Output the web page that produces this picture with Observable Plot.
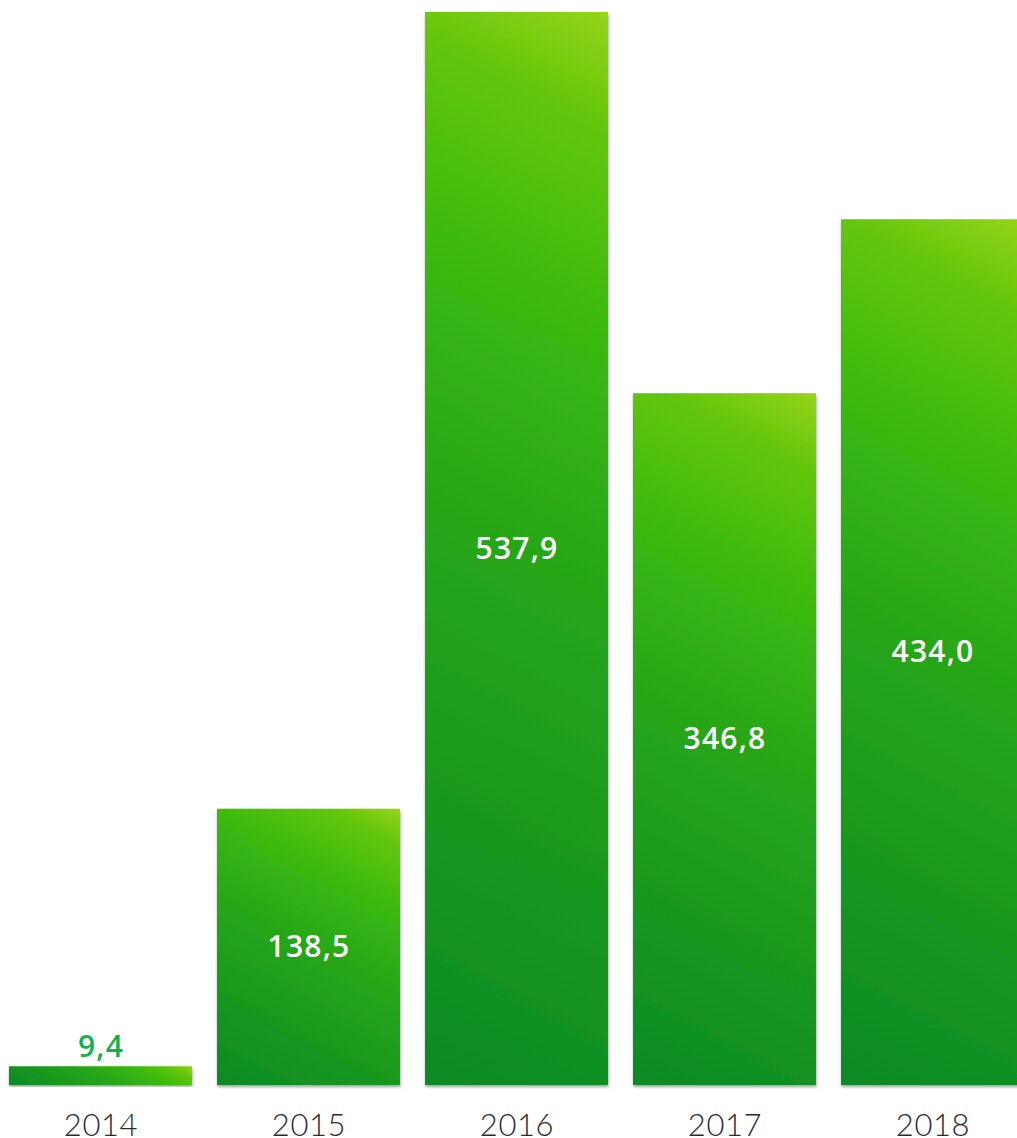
<!DOCTYPE html>
<html>
<head>
<meta charset="utf-8">
<script src="https://cdn.jsdelivr.net/npm/d3@7"></script>
<script src="https://cdn.jsdelivr.net/npm/@observablehq/plot@0.6"></script>
<style>
  html, body { margin: 0; padding: 0; background: #fff; }
  #chart { width: 1017px; height: 1138px; overflow: hidden; }
</style>
</head>
<body>
<div id="chart"></div>
<script>
const years = ["2014", "2015", "2016", "2017", "2018"];
const values = [9.4, 138.5, 537.9, 346.8, 434.0];

const data = years.map((year, i) => ({year, value: values[i]}));
const fmt = v => d3.format(".1f")(v).replace(".", ",");
const maxV = d3.max(values);
const smallThreshold = 50;

const svg = Plot.plot({
  width: 1017,
  height: 1138,
  marginTop: 12,
  marginBottom: 53,
  marginLeft: 0,
  marginRight: 0,
  x: {type: "band", domain: years, range: [-3.3, 1036.7], paddingInner: 0.118, paddingOuter: 0.059, align: 0.5, axis: null},
  y: {domain: [0, maxV], axis: null},
  marks: [
    Plot.barY(data, {x: "year", y: "value"}),
    Plot.text(data.filter(d => d.value >= smallThreshold), {
      x: "year", y: d => d.value / 2, text: d => fmt(d.value),
      fill: "#ffffff", fontSize: 30, fontWeight: 600, lineAnchor: "middle"
    }),
    Plot.text(data.filter(d => d.value < smallThreshold), {
      x: "year", y: "value", text: d => fmt(d.value),
      fill: "#14b04e", fontSize: 30, fontWeight: 600, lineAnchor: "middle", dy: -19
    }),
    Plot.text(data, {
      x: "year", frameAnchor: "bottom", text: "year",
      fill: "#2a2a2a", fontSize: 31, fontWeight: 300, lineAnchor: "bottom", dy: 50
    })
  ]
});

svg.style.fontFamily = "'Open Sans', Lato, sans-serif";
d3.select(svg).selectAll("text").attr("letter-spacing", 1.2);
// year labels in thin font
const textGroups = svg.querySelectorAll('g[aria-label="text"]');
const yearGroup = textGroups[textGroups.length - 1];
yearGroup.setAttribute("font-family", "Lato, 'Open Sans', sans-serif");
d3.select(yearGroup).selectAll("text").attr("letter-spacing", 0.6);

const root = d3.select(svg);
const defs = root.insert("defs", ":first-child");
const filt = defs.append("filter").attr("id", "shadow")
  .attr("x", "-10%").attr("y", "-10%").attr("width", "120%").attr("height", "120%");
filt.append("feDropShadow").attr("dx", 0.5).attr("dy", 2).attr("stdDeviation", 1.6)
  .attr("flood-color", "#000").attr("flood-opacity", 0.38);

const stops = [[0, "#0b8a25"], [0.5, "#27a619"], [0.73, "#3cba10"], [0.9, "#63c610"], [1, "#97d414"]];
const ang = 28 * Math.PI / 180;
const sx = Math.sin(ang), sy = -Math.cos(ang);
root.selectAll('g[aria-label="bar"] rect').each(function(d, i) {
  const x = +this.getAttribute("x"), y = +this.getAttribute("y");
  const w = +this.getAttribute("width"), h = +this.getAttribute("height");
  const cx = x + w / 2, cy = y + h / 2;
  const L = w * Math.sin(ang) + h * Math.cos(ang);
  const g = defs.append("linearGradient").attr("id", "grad" + i)
    .attr("gradientUnits", "userSpaceOnUse")
    .attr("x1", cx - sx * L / 2).attr("y1", cy - sy * L / 2)
    .attr("x2", cx + sx * L / 2).attr("y2", cy + sy * L / 2);
  stops.forEach(([o, c]) => g.append("stop").attr("offset", o).attr("stop-color", c));
  d3.select(this).attr("fill", `url(#grad${i})`).attr("filter", "url(#shadow)");
});

document.getElementById("chart").appendChild(svg);
</script>
</body>
</html>
